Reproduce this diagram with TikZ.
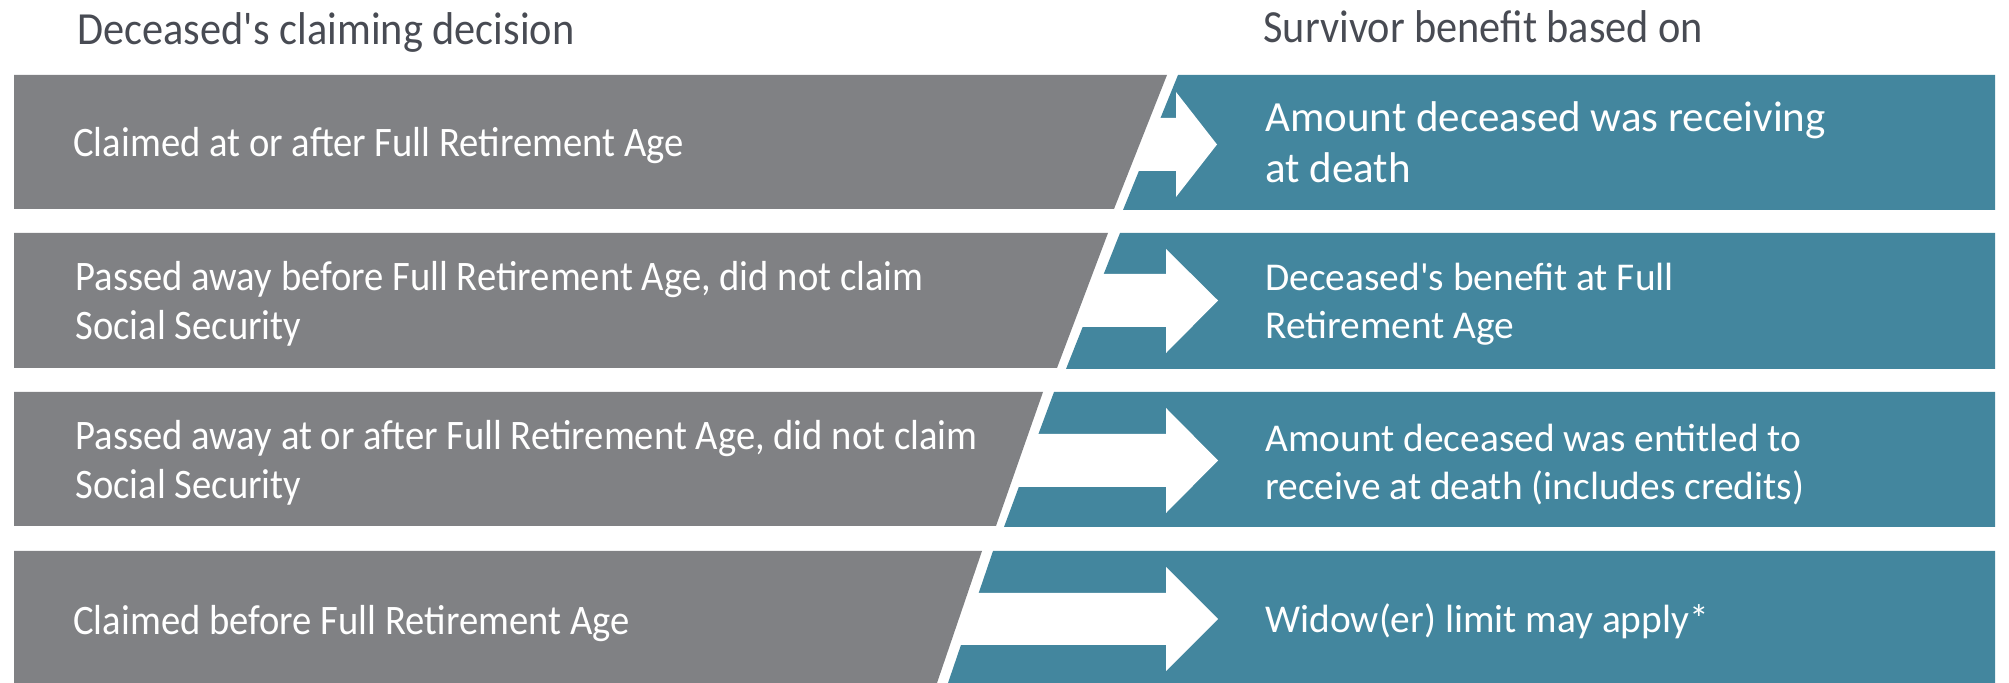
\documentclass[tikz,border=0pt]{standalone}
\usepackage{fontspec}
\setmainfont{Carlito}
\newfontfamily\narrowfont[FakeStretch=0.92]{Carlito}
\definecolor{claimgrey}{HTML}{808184}
\definecolor{benefitteal}{HTML}{43869E}
\definecolor{headgrey}{HTML}{484B53}

\begin{document}
\begin{tikzpicture}[x=0.5pt,y=-0.5pt,
  greybox/.style={fill=claimgrey},
  tealbox/.style={fill=benefitteal},
  cutarrow/.style={fill=white},
  heading/.style={anchor=base west, inner sep=0pt, text=headgrey, font=\narrowfont\fontsize{23}{28}\selectfont},
  claimtext/.style={anchor=base west, inner sep=0pt, text=white, align=left, font=\narrowfont\fontsize{21}{24.8}\selectfont},
  benefittext/.style={anchor=base west, inner sep=0pt, text=white, align=left, font=\fontsize{19.7}{24}\selectfont}]
\useasboundingbox (0,0) rectangle (2009,683);

% row 1
\fill[tealbox] (1178,75) -- (1995,75) -- (1995,210) -- (1123,210) -- cycle;
\fill[cutarrow] (1090,118) -- (1176,118) -- (1176,92) -- (1217,144.5) -- (1176,197) -- (1176,171) -- (1090,171) -- cycle;
\fill[greybox] (14,75) -- (1167,75) -- (1114,209) -- (14,209) -- cycle;
% row 2
\fill[tealbox] (1120,233) -- (1995,233) -- (1995,369) -- (1066,369) -- cycle;
\fill[cutarrow] (1000,274) -- (1166,274) -- (1166,249) -- (1218,300.5) -- (1166,353) -- (1166,327) -- (1000,327) -- cycle;
\fill[greybox] (14,233) -- (1108,233) -- (1057,368) -- (14,368) -- cycle;
% row 3
\fill[tealbox] (1054,392) -- (1995,392) -- (1995,527) -- (1004,527) -- cycle;
\fill[cutarrow] (950,434) -- (1166,434) -- (1166,408) -- (1218,460.5) -- (1166,513) -- (1166,487) -- (950,487) -- cycle;
\fill[greybox] (14,392) -- (1043,392) -- (996,526) -- (14,526) -- cycle;
% row 4
\fill[tealbox] (993,551) -- (1995,551) -- (1995,683) -- (948,683) -- cycle;
\fill[cutarrow] (900,593) -- (1166,593) -- (1166,567) -- (1218,619) -- (1166,671) -- (1166,645) -- (900,645) -- cycle;
\fill[greybox] (14,551) -- (982,551) -- (937,683) -- (14,683) -- cycle;

% headings
\node[heading] (claimhead) at (77,45) {Deceased\textquotesingle s claiming decision};
\node[heading] (benefithead) at (1263,43) {Survivor benefit based on};

% left column (base = last line)
\node[claimtext] (claimfra) at (73,157) {Claimed at or after Full Retirement Age};
\node[claimtext] (diedbefore) at (75,340) {Passed away before Full Retirement Age, did not claim\\Social Security};
\node[claimtext] (diedafter) at (75,499) {Passed away at or after Full Retirement Age, did not claim\\Social Security};
\node[claimtext] (claimearly) at (73,635) {Claimed before Full Retirement Age};

% right column
\node[benefittext, font=\fontsize{21.5}{25.5}\selectfont] (receiving) at (1265,183) {Amount deceased was receiving\\at death};
\node[benefittext] (fullbenefit) at (1265,339) {Deceased\textquotesingle s benefit at Full\\Retirement Age};
\node[benefittext] (entitled) at (1265,500) {Amount deceased was entitled to\\receive at death (includes credits)};
\node[benefittext] (widowlimit) at (1265,633) {Widow(er) limit may apply*};
\end{tikzpicture}
\end{document}
